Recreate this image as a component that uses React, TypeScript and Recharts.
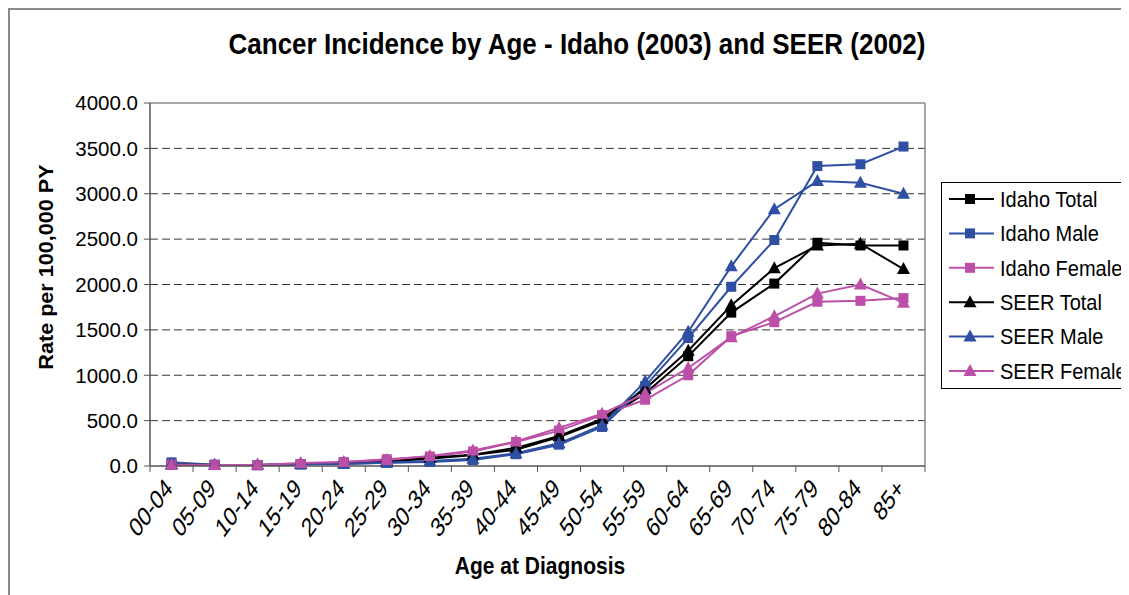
import React from "react";
import { LineChart, Line, XAxis, YAxis, CartesianGrid, ReferenceLine } from "recharts";

const ageGroups = ["00-04", "05-09", "10-14", "15-19", "20-24", "25-29", "30-34", "35-39", "40-44", "45-49", "50-54", "55-59", "60-64", "65-69", "70-74", "75-79", "80-84", "85+"];

const idahoTotal = [20, 12, 10, 20, 35, 50, 80, 120, 180, 320, 500, 800, 1210, 1690, 2010, 2460, 2430, 2430];
const idahoMale = [40, 15, 8, 18, 22, 35, 45, 65, 130, 235, 430, 880, 1410, 1975, 2490, 3305, 3325, 3520];
const idahoFemale = [15, 10, 10, 22, 45, 75, 105, 160, 265, 390, 560, 730, 1000, 1430, 1585, 1810, 1820, 1850];
const seerTotal = [18, 10, 12, 22, 35, 55, 90, 125, 200, 330, 520, 850, 1270, 1770, 2180, 2430, 2450, 2170];
const seerMale = [22, 12, 12, 18, 25, 35, 55, 80, 140, 250, 450, 930, 1480, 2200, 2830, 3140, 3120, 3000];
const seerFemale = [15, 10, 10, 32, 45, 65, 110, 170, 270, 420, 575, 800, 1080, 1420, 1650, 1900, 2000, 1800];

const yTicks = [0, 500, 1000, 1500, 2000, 2500, 3000, 3500, 4000];
const gridValues = [500, 1000, 1500, 2000, 2500, 3000, 3500];

const BLUE = "#2F4FA3";
const PINK = "#BC50A8";
const BLACK = "#000000";

const seriesDefs = [
  { key: "idahoTotal", name: "Idaho Total", color: BLACK, shape: "square", values: idahoTotal },
  { key: "idahoMale", name: "Idaho Male", color: BLUE, shape: "square", values: idahoMale },
  { key: "idahoFemale", name: "Idaho Female", color: PINK, shape: "square", values: idahoFemale },
  { key: "seerTotal", name: "SEER Total", color: BLACK, shape: "triangle", values: seerTotal },
  { key: "seerMale", name: "SEER Male", color: BLUE, shape: "triangle", values: seerMale },
  { key: "seerFemale", name: "SEER Female", color: PINK, shape: "triangle", values: seerFemale },
];

const data = ageGroups.map((age, i) => {
  const row: Record<string, number | string> = { age, pos: i + 0.5 };
  seriesDefs.forEach((s) => {
    row[s.key] = s.values[i];
  });
  return row;
});

const FONT = "'Liberation Sans', Arial, Helvetica, sans-serif";
const W = 1121;
const H = 587;
const PLOT_LEFT = 142;
const PLOT_TOP = 95;
const PLOT_RIGHT = 917;
const PLOT_BOTTOM = 458;
const PLOT_W = PLOT_RIGHT - PLOT_LEFT;

function Marker({ shape, color, cx, cy }: { shape: string; color: string; cx: number; cy: number }) {
  if (shape === "square") {
    return <rect x={cx - 5} y={cy - 5} width={10} height={10} fill={color} />;
  }
  return <polygon points={`${cx},${cy - 7} ${cx + 6.5},${cy + 5} ${cx - 6.5},${cy + 5}`} fill={color} />;
}

const makeDot = (shape: string, color: string) => (props: any) => {
  const { cx, cy, index } = props;
  if (cx == null || cy == null) return <g key={index} />;
  return (
    <g key={index}>
      <Marker shape={shape} color={color} cx={cx} cy={cy} />
    </g>
  );
};

const XTick = (props: any) => {
  const { x, y, payload } = props;
  const i = Math.round(payload.value);
  if (i < 0 || i >= ageGroups.length) return <g />;
  const half = PLOT_W / ageGroups.length / 2;
  return (
    <text
      transform={`translate(${x + half + 2},${y + 16}) scale(1,1.35) rotate(-45)`}
      textAnchor="end"
      fontSize={20}
      fontFamily={FONT}
      fill="#000"
    >
      {ageGroups[i]}
    </text>
  );
};

function LegendBox() {
  const rowH = 34.4;
  return (
    <div
      style={{
        position: "absolute",
        left: 933,
        top: 174,
        width: 260,
        height: 205,
        border: "1px solid #000",
        background: "#fff",
      }}
    >
      <svg width={260} height={205} style={{ display: "block" }}>
        {seriesDefs.map((s, i) => {
          const cy = 16 + i * rowH;
          return (
            <g key={s.key}>
              <line x1={7} x2={52} y1={cy} y2={cy} stroke={s.color} strokeWidth={2} />
              <Marker shape={s.shape} color={s.color} cx={28} cy={cy} />
              <text
                x={58}
                y={cy}
                dominantBaseline="central"
                fontSize={20}
                fontFamily={FONT}
                fill="#000"
                transform={`translate(0,${cy}) scale(1,1.1) translate(0,${-cy})`}
              >
                {s.name}
              </text>
            </g>
          );
        })}
      </svg>
    </div>
  );
}

export default function App() {
  return (
    <div style={{ position: "relative", width: W, height: H, overflow: "hidden", background: "#fff" }}>
      <div
        style={{
          position: "absolute",
          left: 0,
          top: 0,
          width: 1400,
          height: 800,
          borderLeft: "2px solid #8a8a8a",
          borderTop: "2px solid #8a8a8a",
          boxSizing: "border-box",
        }}
      />
      <div
        style={{
          position: "absolute",
          left: 69,
          width: 1000,
          top: 23,
          textAlign: "center",
          fontFamily: FONT,
          fontWeight: "bold",
          fontSize: 26,
          lineHeight: "26px",
          color: "#000",
          whiteSpace: "nowrap",
          transform: "scaleY(1.1)",
        }}
      >
        Cancer Incidence by Age - Idaho (2003) and SEER (2002)
      </div>
      <div style={{ position: "absolute", left: 0, top: 0 }}>
        <LineChart
          width={W}
          height={H}
          data={data}
          margin={{ top: PLOT_TOP, right: W - PLOT_RIGHT, left: 0, bottom: 0 }}
        >
          <CartesianGrid
            vertical={false}
            horizontal={true}
            horizontalValues={gridValues}
            stroke="#333"
            strokeDasharray="8 4"
          />
          <XAxis
            dataKey="pos"
            type="number"
            domain={[0, ageGroups.length]}
            ticks={ageGroups.map((_, i) => i).concat([ageGroups.length])}
            interval={0}
            height={H - PLOT_BOTTOM}
            tickSize={6}
            tickMargin={2}
            tick={<XTick />}
            axisLine={{ stroke: "#555", strokeWidth: 1.5 }}
            tickLine={{ stroke: "#555" }}
            allowDataOverflow
          />
          <YAxis
            type="number"
            domain={[0, 4000]}
            ticks={yTicks}
            interval={0}
            width={PLOT_LEFT}
            tickSize={6}
            tickMargin={6}
            tickFormatter={(v: number) => v.toFixed(1)}
            tick={{ fontSize: 20.5, fontFamily: FONT, fill: "#000" }}
            axisLine={{ stroke: "#555", strokeWidth: 1.5 }}
            tickLine={{ stroke: "#555" }}
          />
          <ReferenceLine y={4000} stroke="#8a8a8a" strokeWidth={1.5} />
          <ReferenceLine x={ageGroups.length} stroke="#8a8a8a" strokeWidth={1.5} />
          {seriesDefs.map((s) => (
            <Line
              key={s.key}
              type="linear"
              dataKey={s.key}
              name={s.name}
              stroke={s.color}
              strokeWidth={2}
              dot={makeDot(s.shape, s.color)}
              activeDot={false}
              isAnimationActive={false}
            />
          ))}
        </LineChart>
      </div>
      <div
        style={{
          position: "absolute",
          left: 37.5,
          top: 259,
          transform: "translate(-50%, -50%) rotate(-90deg) scaleX(1.08)",
          fontFamily: FONT,
          fontWeight: "bold",
          fontSize: 20,
          whiteSpace: "nowrap",
          color: "#000",
        }}
      >
        Rate per 100,000 PY
      </div>
      <div
        style={{
          position: "absolute",
          left: 532,
          top: 558,
          transform: "translate(-50%, -50%) scaleY(1.15)",
          fontFamily: FONT,
          fontWeight: "bold",
          fontSize: 21,
          whiteSpace: "nowrap",
          color: "#000",
        }}
      >
        Age at Diagnosis
      </div>
      <LegendBox />
    </div>
  );
}
